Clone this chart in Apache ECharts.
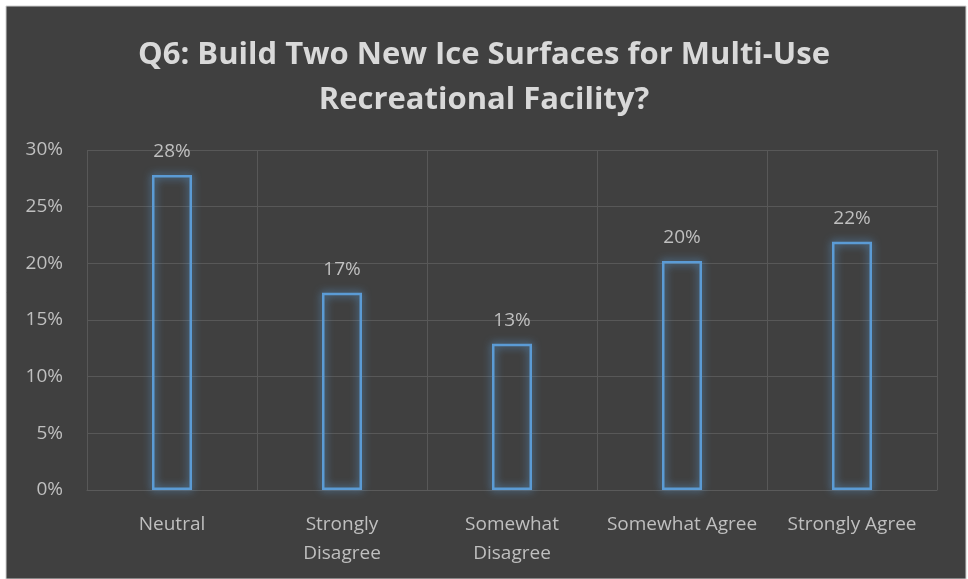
<!DOCTYPE html>
<html>
<head>
<meta charset="utf-8">
<script src="https://cdn.jsdelivr.net/npm/echarts@6/dist/echarts.min.js"></script>
<style>
  html, body { margin: 0; padding: 0; background: #fff; }
  #main { width: 968px; height: 579px; }
</style>
</head>
<body>
<div id="main"></div>
<script>
// answers and share of respondents (%)
var categories = ['Neutral', 'Strongly\nDisagree', 'Somewhat\nDisagree', 'Somewhat Agree', 'Strongly Agree'];
var shares = [27.8, 17.4, 12.9, 20.2, 21.9];
var yTicks = [0, 5, 10, 15, 20, 25, 30];

var chart = echarts.init(document.getElementById('main'));
var font = '"Open Sans", "Noto Sans", sans-serif';

var option = {
  backgroundColor: '#ffffff',
  graphic: [{
    type: 'rect',
    z: -10,
    shape: { x: 6, y: 6, width: 960, height: 573 },
    style: { fill: '#404040', stroke: '#d0d0d0', lineWidth: 1 }
  }],
  title: {
    text: 'Q6: Build Two New Ice Surfaces for Multi-Use\nRecreational Facility?',
    left: 'center',
    top: 28,
    textStyle: {
      color: '#d9d9d9',
      fontSize: 31,
      fontWeight: 'bold',
      fontFamily: font,
      lineHeight: 45
    }
  },
  grid: { left: 87, right: 31, top: 150, bottom: 89, containLabel: false },
  xAxis: {
    type: 'category',
    data: categories,
    axisLine: { lineStyle: { color: '#5a5a5a' } },
    axisTick: { show: false },
    splitLine: { show: true, lineStyle: { color: '#585858', width: 1 } },
    axisLabel: {
      color: '#bfbfbf',
      fontSize: 19,
      fontFamily: font,
      margin: 20,
      lineHeight: 29,
      interval: 0
    }
  },
  yAxis: {
    type: 'value',
    min: yTicks[0],
    max: yTicks[yTicks.length - 1],
    interval: 5,
    axisLine: { show: false },
    axisTick: { show: false },
    splitLine: { lineStyle: { color: '#585858', width: 1 } },
    axisLabel: {
      color: '#bfbfbf',
      fontSize: 19,
      fontFamily: font,
      margin: 24,
      formatter: function (v) { return v + '%'; }
    }
  },
  series: [{
    type: 'bar',
    data: shares,
    barWidth: 40,
    itemStyle: {
      color: 'rgba(64,64,64,0)',
      borderColor: '#5b9bd5',
      borderWidth: 2.5,
      shadowBlur: 9,
      shadowColor: 'rgba(91,155,213,1)'
    },
    label: {
      show: true,
      position: 'top',
      distance: 14,
      color: '#bfbfbf',
      fontSize: 19,
      fontFamily: font,
      formatter: function (p) { return Math.round(p.value) + '%'; }
    }
  }]
};

chart.setOption(option);
</script>
</body>
</html>
